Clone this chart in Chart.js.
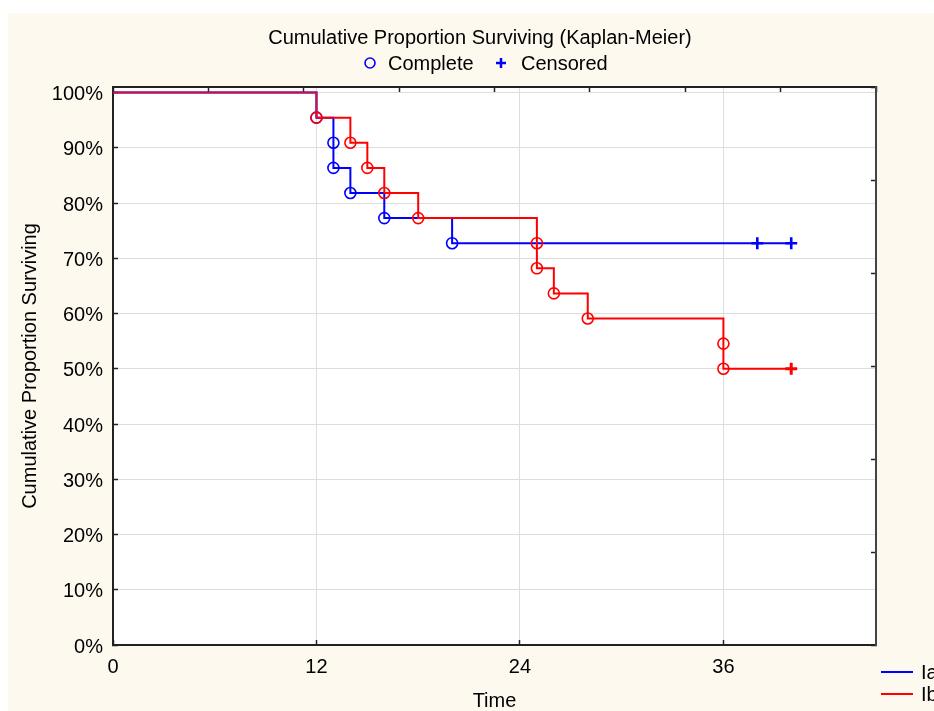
<!DOCTYPE html>
<html>
<head>
<meta charset="utf-8">
<title>Cumulative Proportion Surviving</title>
<script src="https://cdn.jsdelivr.net/npm/chart.js@4/dist/chart.umd.min.js"></script>
<style>
  html, body { margin: 0; padding: 0; background: #fff; overflow: hidden; }
  #wrap { position: absolute; left: 8px; top: 13px; width: 934px; height: 698px; background: #fdf9ef; }
</style>
</head>
<body>
<div id="wrap"><canvas id="km" width="934" height="698"></canvas></div>
<script>
  // Kaplan-Meier step curves (time, cumulative proportion surviving in %)
  const iaTimes = [0, 12, 13, 13, 14, 16, 20, 40];
  const iaSurvival = [100, 95.45, 90.91, 86.36, 81.82, 77.27, 72.73, 72.73];
  const ibTimes = [0, 12, 14, 15, 16, 18, 25, 25, 26, 28, 36, 36, 40];
  const ibSurvival = [100, 95.45, 90.91, 86.36, 81.82, 77.27, 72.73, 68.18, 63.64, 59.09, 54.55, 50, 50];

  // complete (event) observations
  const iaCompleteTimes = [12, 13, 13, 14, 16, 20];
  const iaCompleteSurvival = [95.45, 90.91, 86.36, 81.82, 77.27, 72.73];
  const ibCompleteTimes = [12, 14, 15, 16, 18, 25, 25, 26, 28, 36, 36];
  const ibCompleteSurvival = [95.45, 90.91, 86.36, 81.82, 77.27, 72.73, 68.18, 63.64, 59.09, 54.55, 50];

  // censored observations
  const iaCensoredTimes = [38, 40];
  const iaCensoredSurvival = [72.73, 72.73];
  const ibCensoredTimes = [40];
  const ibCensoredSurvival = [50];

  const groupLabels = ['Ia', 'Ib'];
  const markerLabels = ['Complete', 'Censored'];
  const xTickValues = [0, 12, 24, 36];

  const BLUE = '#0000ff';
  const RED = '#ff0000';
  const SHARED = '#d0103c';
  const FAMILY = "'Liberation Sans', Arial, sans-serif";

  Chart.defaults.font.family = FAMILY;
  Chart.defaults.color = '#000';

  function toPoints(xs, ys) {
    return xs.map((x, i) => ({ x, y: ys[i] }));
  }

  const plotBackground = {
    id: 'plotBackground',
    beforeDraw(chart) {
      const { ctx, chartArea: a } = chart;
      ctx.save();
      ctx.fillStyle = '#fff';
      ctx.fillRect(a.left, a.top, a.right - a.left, a.bottom - a.top);
      ctx.restore();
    },
  };

  // marker key under the title and the group key in the bottom right corner
  const keys = {
    id: 'keys',
    afterDraw(chart) {
      const ctx = chart.ctx;
      ctx.save();
      ctx.font = '20px ' + FAMILY;
      ctx.textBaseline = 'middle';
      ctx.fillStyle = '#000';

      ctx.strokeStyle = BLUE;
      ctx.lineWidth = 1.6;
      ctx.beginPath();
      ctx.arc(362, 50, 5, 0, Math.PI * 2);
      ctx.stroke();
      ctx.fillText(markerLabels[0], 380, 51);

      ctx.lineWidth = 2.5;
      ctx.beginPath();
      ctx.moveTo(488, 50); ctx.lineTo(498, 50);
      ctx.moveTo(493, 45); ctx.lineTo(493, 55);
      ctx.stroke();
      ctx.fillText(markerLabels[1], 513, 51);

      [BLUE, RED].forEach((color, i) => {
        const y = 659 + i * 22;
        ctx.strokeStyle = color;
        ctx.lineWidth = 2;
        ctx.beginPath();
        ctx.moveTo(873, y); ctx.lineTo(905, y);
        ctx.stroke();
        ctx.fillText(groupLabels[i], 913, y + 1);
      });
      ctx.restore();
    },
  };

  const frame = { display: true, color: '#222', width: 2 };

  new Chart(document.getElementById('km'), {
    type: 'line',
    data: {
      datasets: [
        {
          label: 'Ib complete',
          data: toPoints(ibCompleteTimes, ibCompleteSurvival),
          showLine: false,
          pointRadius: 5.5,
          pointBorderWidth: 1.6,
          pointBorderColor: RED,
          pointBackgroundColor: 'transparent',
          order: 0,
        },
        {
          label: 'Ib censored',
          data: toPoints(ibCensoredTimes, ibCensoredSurvival),
          showLine: false,
          pointStyle: 'cross',
          pointRadius: 6,
          pointBorderWidth: 3,
          pointBorderColor: RED,
          order: 0,
        },
        {
          label: groupLabels[1],
          data: toPoints(ibTimes, ibSurvival),
          stepped: 'before',
          borderColor: RED,
          borderWidth: 2,
          pointRadius: 0,
          segment: {
            borderColor: (c) => (c.p0.parsed.y === 100 ? SHARED : undefined),
          },
          order: 1,
        },
        {
          label: 'Ia complete',
          data: toPoints(iaCompleteTimes, iaCompleteSurvival),
          showLine: false,
          pointRadius: 5.5,
          pointBorderWidth: 1.6,
          pointBorderColor: BLUE,
          pointBackgroundColor: 'transparent',
          order: 2,
        },
        {
          label: 'Ia censored',
          data: toPoints(iaCensoredTimes, iaCensoredSurvival),
          showLine: false,
          pointStyle: 'cross',
          pointRadius: 6,
          pointBorderWidth: 2.6,
          pointBorderColor: BLUE,
          order: 2,
        },
        {
          label: groupLabels[0],
          data: toPoints(iaTimes, iaSurvival),
          stepped: 'before',
          borderColor: BLUE,
          borderWidth: 2,
          pointRadius: 0,
          order: 3,
        },
      ],
    },
    options: {
      responsive: false,
      animation: false,
      layout: { padding: { left: 10, right: 0, top: 0, bottom: 0 } },
      plugins: {
        legend: { display: false },
        tooltip: { enabled: false },
        title: {
          display: true,
          text: 'Cumulative Proportion Surviving (Kaplan-Meier)',
          font: { size: 20, weight: 'normal' },
          color: '#000',
          padding: { top: 13, bottom: 37 },
        },
      },
      scales: {
        x: {
          type: 'linear',
          position: 'bottom',
          min: 0,
          max: 45,
          afterBuildTicks: (scale) => {
            scale.ticks = xTickValues.map((v) => ({ value: v }));
          },
          ticks: { font: { size: 20 }, padding: 15, color: '#000' },
          grid: { color: '#dddddd', tickColor: '#222', tickLength: -5, tickWidth: 1.5 },
          border: frame,
          title: { display: true, text: 'Time', font: { size: 20 }, padding: { top: 0, bottom: -2 } },
          afterFit: (scale) => { scale.height = 66; },
        },
        y: {
          position: 'left',
          min: 0,
          max: 101,
          ticks: {
            stepSize: 10,
            includeBounds: false,
            font: { size: 20 },
            padding: 15,
            labelOffset: 2,
            color: '#000',
            callback: (v) => v + '%',
          },
          grid: { color: '#dddddd', tickColor: '#222', tickLength: -5, tickWidth: 1.5 },
          border: frame,
          title: {
            display: true,
            text: 'Cumulative Proportion Surviving',
            font: { size: 20 },
            padding: { top: 0, bottom: 0 },
          },
          afterFit: (scale) => { scale.width = 95; },
        },
        x2: {
          type: 'linear',
          position: 'top',
          min: 0,
          max: 8,
          ticks: { stepSize: 1, display: false },
          grid: { drawOnChartArea: false, tickColor: '#222', tickLength: -5, tickWidth: 1.5 },
          border: frame,
          afterFit: (scale) => { scale.height = 0; },
        },
        y2: {
          type: 'linear',
          position: 'right',
          min: 0,
          max: 6,
          ticks: { stepSize: 1, display: false },
          grid: { drawOnChartArea: false, tickColor: '#222', tickLength: -5, tickWidth: 1.5 },
          border: { display: true, color: '#444', width: 2 },
          afterFit: (scale) => { scale.width = 66; },
        },
      },
    },
    plugins: [plotBackground, keys],
  });
</script>
</body>
</html>
